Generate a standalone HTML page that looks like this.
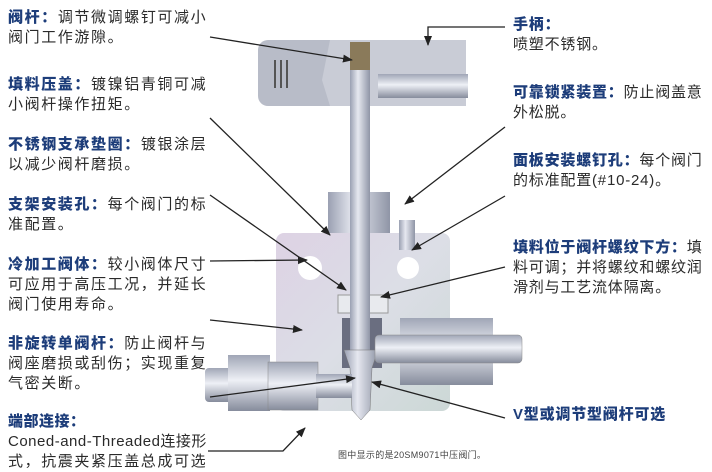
<!DOCTYPE html>
<html><head><meta charset="utf-8"><style>
body{margin:0;width:712px;height:471px;background:#fff;position:relative;overflow:hidden;font-family:"Liberation Sans","Noto Sans CJK SC",sans-serif;}
.t{position:absolute;font-size:15px;letter-spacing:1.6px;line-height:20px;color:#2a2a2a;white-space:nowrap;}
.r{letter-spacing:0.8px;}
.t b{color:#1d3d7a;font-weight:900;}
svg{position:absolute;left:0;top:0;}
</style></head><body>
<svg width="712" height="471" viewBox="0 0 712 471">
<defs>
<linearGradient id="m" x1="0" x2="1"><stop offset="0" stop-color="#9aa0b2"/><stop offset=".4" stop-color="#e6e8f0"/><stop offset="1" stop-color="#8f95a6"/></linearGradient>
<linearGradient id="mv" x1="0" x2="0" y1="0" y2="1"><stop offset="0" stop-color="#a0a6b6"/><stop offset=".45" stop-color="#eef0f6"/><stop offset="1" stop-color="#868c9c"/></linearGradient>
<linearGradient id="b" x1="0" x2="1" y1="0" y2="1"><stop offset="0" stop-color="#ddd2e4"/><stop offset=".5" stop-color="#dcdee6"/><stop offset="1" stop-color="#ccd8d6"/></linearGradient>
<marker id="a" markerWidth="10" markerHeight="10" refX="9" refY="5" orient="auto" markerUnits="userSpaceOnUse"><path d="M0,1 L10,5 L0,9 z" fill="#222"/></marker>
</defs>
<rect x="258" y="40" width="208" height="66" rx="10" fill="#b8bcc8"/>
<path d="M330,40 L466,40 L466,106 L330,106 L322,80 Z" fill="#c9ccd6"/>
<rect x="274" y="60" width="2" height="28" fill="#555"/><rect x="280" y="60" width="2" height="28" fill="#555"/><rect x="286" y="60" width="2" height="28" fill="#555"/>
<rect x="378" y="74" width="90" height="24" fill="url(#mv)"/>
<rect x="350" y="42" width="20" height="30" fill="#8a7a5a"/>
<rect x="328" y="192" width="62" height="68" fill="url(#m)"/>
<rect x="336" y="258" width="56" height="56" fill="url(#m)"/>
<rect x="276" y="233" width="174" height="178" rx="8" fill="url(#b)"/>
<circle cx="310" cy="268" r="12" fill="#fff"/><circle cx="408" cy="268" r="11" fill="#fff"/>
<rect x="338" y="295" width="50" height="18" fill="#e8eaee" stroke="#999"/>
<rect x="342" y="318" width="40" height="50" fill="#6a6e80"/>
<rect x="350" y="70" width="20" height="300" fill="url(#m)"/>
<path d="M344,350 L378,350 L372,368 L370,410 L361,420 L352,410 L350,368 Z" fill="url(#m)" stroke="#777" stroke-width=".5"/>
<rect x="399" y="220" width="16" height="30" fill="url(#m)"/>
<rect x="400" y="318" width="93" height="67" fill="url(#mv)"/>
<rect x="375" y="335" width="147" height="28" rx="4" fill="url(#mv)" stroke="#888" stroke-width=".5"/>
<rect x="205" y="368" width="40" height="34" rx="4" fill="url(#mv)"/>
<rect x="228" y="355" width="42" height="56" fill="url(#mv)"/>
<rect x="268" y="362" width="50" height="48" fill="url(#mv)" stroke="#888" stroke-width=".5"/>
<rect x="316" y="374" width="36" height="24" fill="url(#mv)"/>
<g stroke="#222" stroke-width="1.3" fill="none" marker-end="url(#a)">
<path d="M210,37 L352,60"/>
<path d="M210,118 L330,235"/>
<path d="M210,195 L346,290"/>
<path d="M210,261 L307,260"/>
<path d="M210,320 L302,330"/>
<path d="M210,397 L355,378"/>
<path d="M208,451 L283,451 L305,428"/>
<path d="M505,27 L428,27 L428,45"/>
<path d="M505,127 L405,204"/>
<path d="M505,196 L412,250"/>
<path d="M505,267 L381,297"/>
<path d="M505,418 L372,382"/>
</g>
</svg>
<div class="t" style="left:8px;top:8px"><b>阀杆：</b>调节微调螺钉可减小<br>阀门工作游隙。</div>
<div class="t" style="left:8px;top:75px"><b>填料压盖：</b>镀镍铝青铜可减<br>小阀杆操作扭矩。</div>
<div class="t" style="left:8px;top:135px"><b>不锈钢支承垫圈：</b>镀银涂层<br>以减少阀杆磨损。</div>
<div class="t" style="left:8px;top:195px"><b>支架安装孔：</b>每个阀门的标<br>准配置。</div>
<div class="t" style="left:8px;top:255px"><b>冷加工阀体：</b>较小阀体尺寸<br>可应用于高压工况，并延长<br>阀门使用寿命。</div>
<div class="t" style="left:8px;top:334px"><b>非旋转单阀杆：</b>防止阀杆与<br>阀座磨损或刮伤；实现重复<br>气密关断。</div>
<div class="t" style="left:8px;top:412px;letter-spacing:0.5px"><b>端部连接：</b><br>Coned-and-Threaded连接形<br><span style="letter-spacing:1.6px">式，抗震夹紧压盖总成可选</span></div>
<div class="t r" style="left:513px;top:15px"><b>手柄：</b><br>喷塑不锈钢。</div>
<div class="t r" style="left:513px;top:83px"><b>可靠锁紧装置：</b>防止阀盖意<br>外松脱。</div>
<div class="t r" style="left:513px;top:151px"><b>面板安装螺钉孔：</b>每个阀门<br>的标准配置(#10-24)。</div>
<div class="t r" style="left:513px;top:238px"><b>填料位于阀杆螺纹下方：</b>填<br>料可调；并将螺纹和螺纹润<br>滑剂与工艺流体隔离。</div>
<div class="t r" style="left:513px;top:405px"><b>V型或调节型阀杆可选</b></div>
<div class="t" style="left:338px;top:449px;font-size:9px;line-height:12px;letter-spacing:0.3px;color:#444">图中显示的是20SM9071中压阀门。</div>
</body></html>
